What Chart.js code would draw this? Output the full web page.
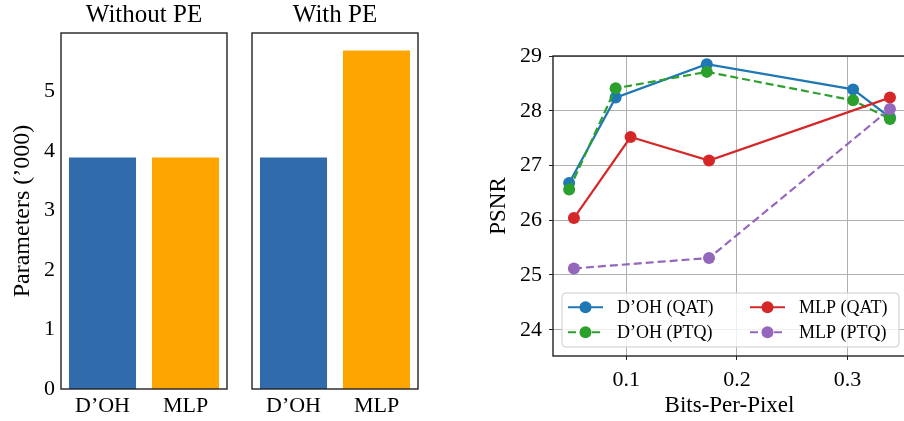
<!DOCTYPE html>
<html>
<head>
<meta charset="utf-8">
<script src="https://cdn.jsdelivr.net/npm/chart.js@4.4.1/dist/chart.umd.min.js"></script>
<style>
    html, body { margin: 0; padding: 0; background: #fff; }
    body { width: 904px; height: 421px; overflow: hidden; position: relative; }
    canvas { position: absolute; top: 0; }
    #params-no-pe { left: 0; }
    #params-pe { left: 240px; }
    #psnr-bpp { left: 460px; }
</style>
</head>
<body>
<canvas id="params-no-pe" width="230" height="421"></canvas>
<canvas id="params-pe" width="182" height="421"></canvas>
<canvas id="psnr-bpp" width="452" height="421"></canvas>
<script>
const FONT = "'Liberation Serif', 'Times New Roman', serif";

// left: parameter counts ('000)
const modelLabels = ['D’OH', 'MLP'];
const paramsWithoutPE = [3.89, 3.89];
const paramsWithPE = [3.89, 5.69];
const barColors = ['#306bac', '#ffa500'];
const paramTicks = [0, 1, 2, 3, 4, 5];

// right: PSNR vs bits-per-pixel
const bppDoh = [0.0484, 0.0904, 0.1728, 0.305, 0.3383];
const psnrDohQat = [26.68, 28.24, 28.85, 28.39, 27.88];
const psnrDohPtq = [26.56, 28.41, 28.71, 28.19, 27.85];
const bppMlpQat = [0.0527, 0.1039, 0.1748, 0.3383];
const psnrMlpQat = [26.04, 27.52, 27.09, 28.24];
const bppMlpPtq = [0.0527, 0.1748, 0.3383];
const psnrMlpPtq = [25.12, 25.31, 28.03];
const psnrTicks = [24, 25, 26, 27, 28, 29];
const bppTicks = [0.1, 0.2, 0.3];

const $noPeCanvas = document.getElementById('params-no-pe');
const $peCanvas = document.getElementById('params-pe');
const $psnrCanvas = document.getElementById('psnr-bpp');


//------------------------------PLUGINS------------------------------

const framePlugin = {
    id: 'frame',
    afterDatasetsDraw(chart) {
        const { ctx, chartArea } = chart;
        ctx.save();
        ctx.strokeStyle = '#222';
        ctx.lineWidth = 1.4;
        ctx.strokeRect(chartArea.left, chartArea.top, chartArea.right - chartArea.left, chartArea.bottom - chartArea.top);
        ctx.restore();
    }
};

// subplot title, centred over the axes box (not the whole canvas)
const axesTitlePlugin = {
    id: 'axesTitle',
    afterDraw(chart, args, options) {
        const { ctx, chartArea } = chart;
        ctx.save();
        ctx.fillStyle = '#000';
        ctx.font = '25px ' + FONT;
        ctx.textAlign = 'center';
        ctx.textBaseline = 'alphabetic';
        ctx.fillText(options.text, (chartArea.left + chartArea.right) / 2, chartArea.top - 11);
        ctx.restore();
    }
};

// legend sits inside the axes, lower left, two columns
const insideLegendPlugin = {
    id: 'insideLegend',
    afterDraw(chart) {
        const { ctx, chartArea } = chart;
        const boxLeft = chartArea.left + 9;
        const boxTop = chartArea.bottom - 63;

        ctx.save();
        ctx.beginPath();
        ctx.roundRect(boxLeft, boxTop, 337, 54, 4);
        ctx.fillStyle = 'rgba(255, 255, 255, 0.8)';
        ctx.fill();
        ctx.strokeStyle = '#cccccc';
        ctx.lineWidth = 1;
        ctx.stroke();

        chart.data.datasets.forEach((dataset, i) => {
            const col = Math.floor(i / 2);
            const row = i % 2;
            const x = boxLeft + (col === 0 ? 6 : 188);
            const y = boxTop + 14.3 + row * 25;

            ctx.strokeStyle = dataset.borderColor;
            ctx.lineWidth = 2;
            ctx.setLineDash(dataset.borderDash || []);
            ctx.beginPath();
            ctx.moveTo(x, y);
            ctx.lineTo(x + 35, y);
            ctx.stroke();
            ctx.setLineDash([]);

            ctx.fillStyle = dataset.borderColor;
            ctx.beginPath();
            ctx.arc(x + 17.5, y, 6, 0, Math.PI * 2);
            ctx.fill();

            ctx.fillStyle = '#000';
            ctx.font = '18px ' + FONT;
            ctx.textBaseline = 'middle';
            ctx.textAlign = 'left';
            ctx.fillText(dataset.label, x + 49, y + 1);
        });
        ctx.restore();
    }
};


//------------------------------FUNCTIONS------------------------------

function toPoints(xs, ys) {
    return xs.map((x, i) => ({ x: x, y: ys[i] }));
};

function createParamsChart($canvas, title, values, showYAxis) {
    return new Chart($canvas, {
        type: 'bar',
        data: {
            labels: modelLabels,
            datasets: [{
                data: values,
                backgroundColor: barColors,
                categoryPercentage: 1,
                barPercentage: 0.808
            }]
        },
        options: {
            responsive: false,
            animation: false,
            devicePixelRatio: 1,
            events: [],
            layout: { padding: { left: showYAxis ? 0 : 12, right: showYAxis ? 3 : 4, top: 33, bottom: 0 } },
            plugins: {
                legend: { display: false },
                tooltip: { enabled: false },
                axesTitle: { text: title }
            },
            scales: {
                x: {
                    grid: { display: false, drawTicks: false },
                    border: { display: false },
                    ticks: { color: '#000', font: { family: FONT, size: 22 }, padding: 4, maxRotation: 0 },
                    afterFit: (scale) => { scale.height = 32; }
                },
                y: {
                    display: showYAxis,
                    min: 0,
                    max: 5.985,
                    grid: { display: false, drawTicks: false },
                    border: { display: false },
                    afterBuildTicks: (scale) => { scale.ticks = paramTicks.map(v => ({ value: v })); },
                    ticks: { color: '#000', font: { family: FONT, size: 22 }, padding: 6 },
                    title: {
                        display: true,
                        text: 'Parameters (’000)',
                        color: '#000',
                        font: { family: FONT, size: 24 },
                        padding: { top: 8, bottom: 0 }
                    },
                    afterFit: (scale) => { scale.width = showYAxis ? 61 : 0; }
                }
            }
        },
        plugins: [framePlugin, axesTitlePlugin]
    });
};

function createPsnrChart() {
    const lineStyle = { borderWidth: 2.2, pointRadius: 6, pointBorderWidth: 0, tension: 0, fill: false };

    return new Chart($psnrCanvas, {
        type: 'line',
        data: {
            datasets: [{
                label: 'D’OH (QAT)',
                data: toPoints(bppDoh, psnrDohQat),
                borderColor: '#1f77b4',
                backgroundColor: '#1f77b4',
                order: 3,
                ...lineStyle
            }, {
                label: 'D’OH (PTQ)',
                data: toPoints(bppDoh, psnrDohPtq),
                borderColor: '#2ca02c',
                backgroundColor: '#2ca02c',
                borderDash: [8, 4],
                order: 2,
                ...lineStyle
            }, {
                label: 'MLP (QAT)',
                data: toPoints(bppMlpQat, psnrMlpQat),
                borderColor: '#d62728',
                backgroundColor: '#d62728',
                order: 1,
                ...lineStyle
            }, {
                label: 'MLP (PTQ)',
                data: toPoints(bppMlpPtq, psnrMlpPtq),
                borderColor: '#9467bd',
                backgroundColor: '#9467bd',
                borderDash: [8, 4],
                order: 0,
                ...lineStyle
            }]
        },
        options: {
            responsive: false,
            animation: false,
            devicePixelRatio: 1,
            events: [],
            layout: { padding: { left: 0, right: 4, top: 56, bottom: 0 } },
            plugins: {
                legend: { display: false },
                tooltip: { enabled: false }
            },
            scales: {
                x: {
                    type: 'linear',
                    min: 0.0338,
                    max: 0.3528,
                    afterBuildTicks: (scale) => { scale.ticks = bppTicks.map(v => ({ value: v })); },
                    grid: { color: '#b0b0b0', lineWidth: 1, tickColor: '#222', tickLength: 4 },
                    border: { display: false },
                    ticks: {
                        color: '#000',
                        font: { family: FONT, size: 22 },
                        padding: 7,
                        maxRotation: 0,
                        callback: (value) => value.toFixed(1)
                    },
                    title: {
                        display: true,
                        text: 'Bits-Per-Pixel',
                        color: '#000',
                        font: { family: FONT, size: 23 },
                        padding: { top: 0, bottom: 1 }
                    },
                    afterFit: (scale) => { scale.height = 65; }
                },
                y: {
                    min: 23.52,
                    max: 29.0,
                    afterBuildTicks: (scale) => { scale.ticks = psnrTicks.map(v => ({ value: v })); },
                    grid: { color: '#b0b0b0', lineWidth: 1, tickColor: '#222', tickLength: 4 },
                    border: { display: false },
                    ticks: { color: '#000', font: { family: FONT, size: 22 }, padding: 7 },
                    title: {
                        display: true,
                        text: 'PSNR',
                        color: '#000',
                        font: { family: FONT, size: 23 },
                        padding: { top: 25, bottom: 0 }
                    },
                    afterFit: (scale) => { scale.width = 93; }
                }
            }
        },
        plugins: [framePlugin, insideLegendPlugin]
    });
};

//---------------------------END OF FUNCTIONS---------------------------

createParamsChart($noPeCanvas, 'Without PE', paramsWithoutPE, true);
createParamsChart($peCanvas, 'With PE', paramsWithPE, false);
createPsnrChart();
</script>
</body>
</html>
